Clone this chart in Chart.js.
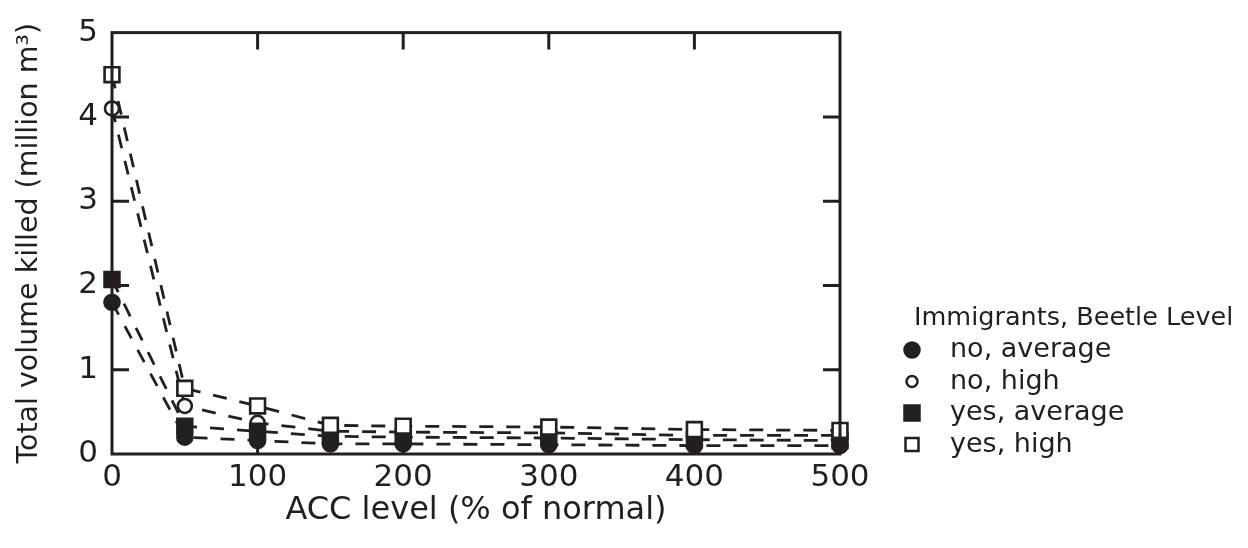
<!DOCTYPE html>
<html>
<head>
<meta charset="utf-8">
<script src="https://cdn.jsdelivr.net/npm/chart.js@4.4.1/dist/chart.umd.min.js"></script>
<style>
html,body{margin:0;padding:0;background:#fff;}
#wrap{width:1248px;height:548px;position:relative;}
</style>
</head>
<body>
<div id="wrap"><canvas id="c" width="1248" height="548"></canvas></div>
<script>
const accLevels = [0, 50, 100, 150, 200, 300, 400, 500];
const noAverage = [1.8, 0.2, 0.16, 0.12, 0.12, 0.11, 0.10, 0.10];
const noHigh = [4.1, 0.57, 0.37, 0.27, 0.26, 0.25, 0.22, 0.22];
const yesAverage = [2.07, 0.33, 0.27, 0.21, 0.20, 0.19, 0.17, 0.16];
const yesHigh = [4.5, 0.78, 0.57, 0.34, 0.33, 0.32, 0.29, 0.28];
const seriesLabels = ['no, average', 'no, high', 'yes, average', 'yes, high'];
const legendTitle = 'Immigrants, Beetle Level';
const xTitle = 'ACC level (% of normal)';
const yTitle = 'Total volume killed (million m\u00B3)';
const xTicks = [0, 100, 200, 300, 400, 500];
const yTicks = [0, 1, 2, 3, 4, 5];

const INK = '#231f20';
const FONT = '"DejaVu Sans", "Noto Sans", sans-serif';

function pts(vals){ return accLevels.map((x,i)=>({x:x, y:vals[i]})); }

const styles = [
  {pointStyle:'circle', fill:INK, radius:7.5},
  {pointStyle:'circle', fill:'#fff', radius:7},
  {pointStyle:'rect', fill:INK, radius:10.5},
  {pointStyle:'rect', fill:'#fff', radius:10.5}
];
const seriesVals = [noAverage, noHigh, yesAverage, yesHigh];

const datasets = seriesVals.map((v,i)=>({
  label: seriesLabels[i],
  data: pts(v),
  borderColor: INK,
  borderWidth: 2.8,
  borderDash: [14, 13],
  pointStyle: styles[i].pointStyle,
  pointRadius: styles[i].radius,
  pointBackgroundColor: styles[i].fill,
  pointBorderColor: INK,
  pointBorderWidth: 2.6,
  fill: false,
  tension: 0,
  clip: false,
  order: 4 - i
}));

const framePlugin = {
  id: 'frame',
  afterDatasetsDraw(chart){
    const ctx = chart.ctx, a = chart.chartArea;
    const xs = chart.scales.x, ys = chart.scales.y;
    ctx.save();
    ctx.strokeStyle = INK;
    ctx.lineWidth = 3;
    ctx.strokeRect(a.left, a.top, a.right - a.left, a.bottom - a.top);
    const L = 17;
    ctx.beginPath();
    xTicks.slice(1, -1).forEach(v=>{
      const px = xs.getPixelForValue(v);
      ctx.moveTo(px, a.top); ctx.lineTo(px, a.top + L);
      ctx.moveTo(px, a.bottom); ctx.lineTo(px, a.bottom - L);
    });
    yTicks.slice(1, -1).forEach(v=>{
      const py = ys.getPixelForValue(v);
      ctx.moveTo(a.left, py); ctx.lineTo(a.left + L, py);
      ctx.moveTo(a.right, py); ctx.lineTo(a.right - L, py);
    });
    ctx.stroke();
    ctx.restore();
  },
  afterDraw(chart){
    const ctx = chart.ctx;
    ctx.save();
    ctx.fillStyle = INK;
    ctx.textBaseline = 'middle';
    ctx.textAlign = 'left';
    ctx.font = '25.5px ' + FONT;
    ctx.fillText(legendTitle, 914, 318);
    const x0 = 912, y0 = 350, dy = 31.5;
    chart.data.datasets.forEach((ds, i)=>{
      const y = y0 + i * dy;
      const st = styles[i];
      ctx.lineWidth = 2.5;
      ctx.strokeStyle = INK;
      ctx.fillStyle = st.fill;
      ctx.beginPath();
      if (st.pointStyle === 'circle') {
        const r = st.fill === INK ? 7.5 : 5.5;
        ctx.arc(x0, y, r, 0, Math.PI*2);
      } else {
        const h = st.fill === INK ? 7.5 : 6.5;
        ctx.rect(x0 - h, y - h, 2*h, 2*h);
      }
      ctx.fill(); ctx.stroke();
      ctx.fillStyle = INK;
      ctx.font = '27px ' + FONT;
      ctx.fillText(ds.label, 950, y);
    });
    ctx.restore();
  }
};

new Chart(document.getElementById('c'), {
  type: 'line',
  data: { datasets },
  options: {
    responsive: false,
    animation: false,
    devicePixelRatio: 1,
    layout: { padding: { top: 25, right: 408, left: 0, bottom: 0 } },
    plugins: { legend: { display: false }, tooltip: { enabled: false } },
    scales: {
      x: {
        type: 'linear', min: 0, max: 500,
        afterBuildTicks(s){ s.ticks = xTicks.map(v=>({value:v})); },
        afterFit(s){ s.height = 94; },
        grid: { display: false, drawTicks: false },
        border: { display: false },
        ticks: { color: INK, font: { family: FONT, size: 31 }, padding: 5, maxRotation: 0 },
        title: { display: true, text: xTitle, color: INK, font: { family: FONT, size: 32 }, padding: { top: 0, bottom: 18 } }
      },
      y: {
        type: 'linear', min: 0, max: 5,
        afterBuildTicks(s){ s.ticks = yTicks.map(v=>({value:v})); },
        afterFit(s){ s.width = 112; },
        grid: { display: false, drawTicks: false },
        border: { display: false },
        ticks: { color: INK, font: { family: FONT, size: 31 }, padding: 14 },
        title: { display: true, text: yTitle, color: INK, font: { family: FONT, size: 28.5 }, padding: { top: 12, bottom: 0 } }
      }
    }
  },
  plugins: [framePlugin]
});
</script>
</body>
</html>
